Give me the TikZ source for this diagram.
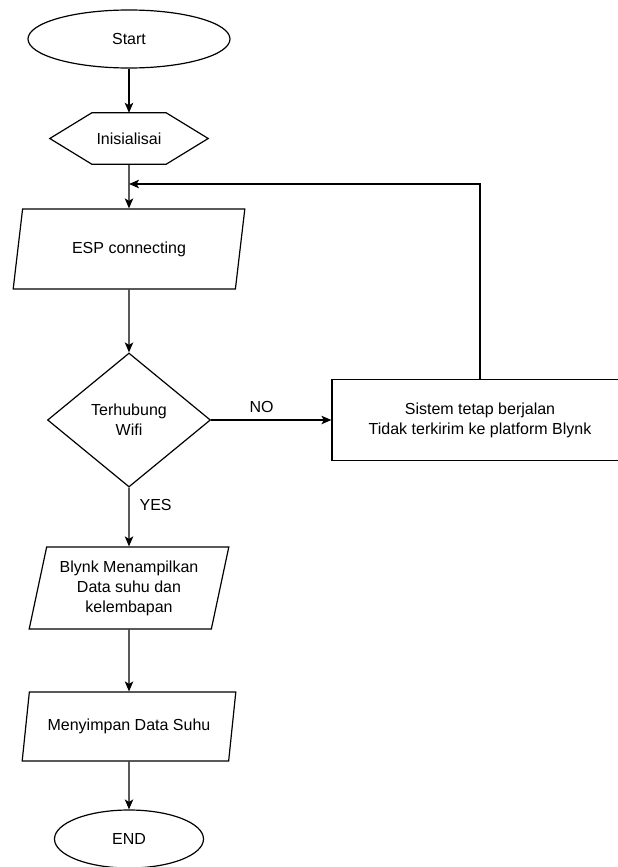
\documentclass[tikz,border=0pt]{standalone}
\usepackage{fontspec}
\setmainfont{Liberation Sans}
\usetikzlibrary{arrows.meta,shapes.geometric}

\begin{document}
\begin{tikzpicture}[x=1pt,y=-1pt,font=\fontsize{16}{20}\selectfont,
  every node/.style={align=center,inner sep=0pt},
  line/.style={line width=1.2pt},
  term/.style={draw,line,ellipse,minimum height=58pt},
  io/.style={draw,line,trapezium,trapezium stretches=true},
  dec/.style={draw,line,diamond,minimum width=163pt,minimum height=134pt},
  box/.style={draw,line,rectangle},
  arr/.style={line,-{Stealth[length=10pt,width=8.5pt,inset=2.5pt]}}]
\useasboundingbox (0,0) rectangle (618,867);
\node[term,minimum width=202pt] (start) at (129,39) {Start};
\node[minimum width=158pt,minimum height=51pt] (init) at (129,138.5) {Inisialisai};
\draw[line] (init.west) -- ([xshift=42pt]init.north west) -- ([xshift=-42pt]init.north east)
  -- (init.east) -- ([xshift=-42pt]init.south east) -- ([xshift=42pt]init.south west) -- cycle;
\node[io,minimum width=232pt,minimum height=80pt,trapezium left angle=71.35,trapezium right angle=108.65] (esp) at (129,249) {ESP connecting};
\node[dec] (cond) at (129,420) {Terhubung\\Wifi};
\node[box,minimum width=296pt,minimum height=81pt] (fail) at (480,420) {Sistem tetap berjalan\\Tidak terkirim ke platform Blynk};
\node[io,minimum width=200pt,minimum height=82pt,trapezium left angle=75,trapezium right angle=105] (show) at (129,588) {Blynk Menampilkan\\Data suhu dan\\kelembapan};
\node[io,minimum width=214pt,minimum height=69pt,trapezium left angle=68.6,trapezium right angle=111.4] (store) at (129,726.5) {Menyimpan Data Suhu};
\node[term,minimum width=149pt] (stop) at (129,839) {END};
\coordinate (back) at (129,184);
% flow
\draw[arr] (start) -- (init);
\draw[arr] (init) -- (esp);
\draw[arr] (esp.south) -- (cond.north);
\draw[arr] (cond.east) -- node[above=7pt,pos=0.42]{NO} (fail.west);
\draw[arr] (cond.south) -- node[right=10pt,pos=0.3]{YES} (show.north);
\draw[arr] (show.south) -- (store.north);
\draw[arr] (store.south) -- (stop.north);
\draw[arr] (fail.north) |- (back);
\end{tikzpicture}
\end{document}
